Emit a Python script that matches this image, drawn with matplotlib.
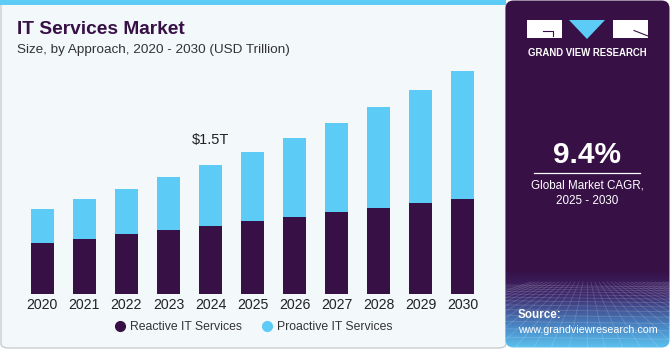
import numpy as np
import matplotlib
matplotlib.use("Agg")
import matplotlib.pyplot as plt
from matplotlib.patches import FancyBboxPatch, Rectangle, Polygon
from matplotlib.lines import Line2D

plt.rcParams['font.family'] = ['Liberation Sans', 'DejaVu Sans']

years = ["2020", "2021", "2022", "2023", "2024", "2025", "2026", "2027", "2028", "2029", "2030"]
reactive = [0.60, 0.643, 0.70, 0.748, 0.80, 0.852, 0.90, 0.957, 1.007, 1.058, 1.108]
proactive = [0.395, 0.462, 0.53, 0.612, 0.70, 0.803, 0.92, 1.033, 1.173, 1.322, 1.492]
series_names = ["Reactive IT Services", "Proactive IT Services"]
annot_year = "2024"
annot_text = "$1.5T"
cagr_text = "9.4%"

DARK = "#371046"
BLUE = "#5ccbf6"
BG = "#f3f8fb"

W, H = 670, 350
fig = plt.figure(figsize=(W / 100, H / 100), dpi=100)
fig.patch.set_facecolor("white")

def fx(px):
    return px / W

def fy(py):
    return 1 - py / H

# left panel background
left_panel = FancyBboxPatch((fx(1), fy(348)), fx(506) - fx(1), fy(1) - fy(348),
                            boxstyle="round,pad=0,rounding_size=0.012",
                            transform=fig.transFigure, facecolor=BG,
                            edgecolor="#c9cdd0", linewidth=1.0, zorder=-5)
fig.patches.append(left_panel)
# top stripe
fig.patches.append(Rectangle((0, fy(5)), fx(506), fy(0) - fy(5), transform=fig.transFigure,
                             facecolor="#5ccbf6", edgecolor="none", zorder=-4))

# right panel
axr = fig.add_axes([fx(505), fy(348), fx(670) - fx(505), fy(0) - fy(348)])
axr.set_zorder(1)
axr.set_xlim(0, 165)
axr.set_ylim(348, 0)
axr.axis("off")
grad = np.zeros((348, 1, 3))
top = np.array([0x37, 0x10, 0x46]) / 255
mid = np.array([0x3d, 0x2a, 0x6e]) / 255
low = np.array([0x4a, 0x8a, 0xc8]) / 255
bot = np.array([0x5c, 0xc4, 0xf0]) / 255
for r in range(348):
    if r < 270:
        c = top
    elif r < 295:
        t = (r - 270) / 25
        c = top * (1 - t) + mid * t
    else:
        t = min((r - 295) / 53, 1.0)
        if t < 0.6:
            c = mid * (1 - t / 0.6) + low * (t / 0.6)
        else:
            u = (t - 0.6) / 0.4
            c = low * (1 - u) + bot * u
    grad[r, 0] = c
clip = FancyBboxPatch((0.5, 0.5), 164, 347, boxstyle="round,pad=0,rounding_size=8",
                      transform=axr.transData, facecolor="none", edgecolor="none")
axr.add_patch(clip)
im = axr.imshow(grad, extent=(0, 165, 348, 0), aspect="auto", zorder=0)
im.set_clip_path(clip)
# faint perspective grid
for k in range(-14, 30):
    x0 = 82 + k * 4
    x1 = 82 + k * 18
    ln = Line2D([x0, x1], [282, 348], color="white", alpha=0.16, lw=0.6, zorder=1)
    axr.add_line(ln)
    ln.set_clip_path(clip)
yy = 285.0
step = 1.8
while yy < 348:
    ln = Line2D([0, 165], [yy, yy + 2], color="white", alpha=0.16, lw=0.6, zorder=1)
    axr.add_line(ln)
    ln.set_clip_path(clip)
    yy += step
    step *= 1.15

# logo
axr.add_patch(Rectangle((22, 20), 35, 18, facecolor="white", edgecolor="none", zorder=2))
axr.add_line(Line2D([38, 48, 48], [31, 31, 36], color=DARK, lw=0.8, zorder=3))
axr.add_patch(Polygon([[64, 20], [100, 20], [82, 39]], closed=True, facecolor=BLUE,
                      edgecolor="none", zorder=2))
axr.add_patch(Rectangle((108, 20), 35, 18, facecolor="white", edgecolor="none", zorder=2))
axr.add_line(Line2D([129, 143], [30.5, 36], color=DARK, lw=0.8, zorder=3))
axr.text(82.5, 52.5, "GRAND VIEW RESEARCH", color="white", fontsize=6.9, fontweight="bold",
         ha="center", va="center", zorder=3)

axr.text(82, 155, cagr_text, color="white", fontsize=21.5, fontweight="bold",
         ha="center", va="center", zorder=3)
axr.add_line(Line2D([29, 135], [173.3, 173.3], color="white", lw=0.9, zorder=3))
axr.text(82, 185.5, "Global Market CAGR,", color="white", fontsize=8.4,
         ha="center", va="center", zorder=3)
axr.text(82, 200.5, "2025 - 2030", color="white", fontsize=8.4,
         ha="center", va="center", zorder=3)
axr.text(13, 315, "Source:", color="white", fontsize=8.4, fontweight="bold",
         ha="left", va="center", zorder=3)
axr.text(13, 330, "www.grandviewresearch.com", color="white", fontsize=7.7,
         ha="left", va="center", zorder=3)

# titles
fig.text(fx(17), fy(29), "IT Services Market", color=DARK, fontsize=13.8, fontweight="bold",
         ha="left", va="center")
fig.text(fx(17), fy(49.5), "Size, by Approach, 2020 - 2030 (USD Trillion)", color="#333333",
         fontsize=9.7, ha="left", va="center")

# chart
base_px = 294.3
top_px = 60
ppt = 86.0
ax = fig.add_axes([fx(21.2), fy(base_px), fx(483.8) - fx(21.2), fy(top_px) - fy(base_px)])
ax.set_zorder(2)
ax.patch.set_visible(False)
x = np.arange(len(years))
b1 = ax.bar(x, reactive, width=0.547, color=DARK, label=series_names[0], zorder=2)
b2 = ax.bar(x, proactive, width=0.547, bottom=reactive, color=BLUE, label=series_names[1], zorder=2)
ax.set_xlim(-0.5, 10.5)
ax.set_ylim(0, (base_px - top_px) / ppt)
ax.set_xticks(x)
ax.set_xticklabels(years, fontsize=10.2, color="#222222")
ax.tick_params(axis="x", length=0, pad=3)
ax.set_yticks([])
for s in ax.spines.values():
    s.set_visible(False)
i = years.index(annot_year)
ax.annotate(annot_text, (x[i], reactive[i] + proactive[i]), xytext=(0, 13),
            textcoords="offset points", ha="center", va="bottom", fontsize=10.5, color="#222222")

handles = [Line2D([], [], marker="o", linestyle="none", markersize=7, color=DARK),
           Line2D([], [], marker="o", linestyle="none", markersize=7, color=BLUE)]
fig.legend(handles, series_names, loc="center", bbox_to_anchor=(fx(253), fy(327.5)), ncol=2,
           frameon=False, fontsize=8.8, handletextpad=0.35, columnspacing=1.5,
           handlelength=1.0, labelcolor="#333333")

fig.savefig("out.png", dpi=100, facecolor=fig.get_facecolor())
